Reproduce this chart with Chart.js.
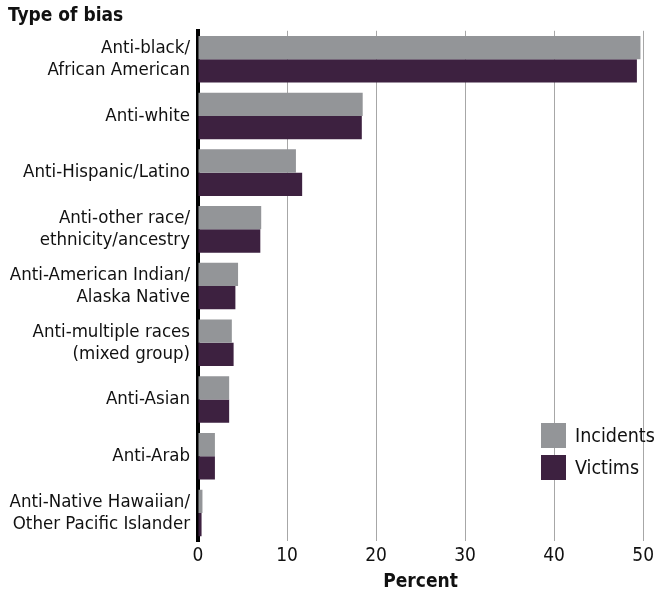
<!DOCTYPE html>
<html>
<head>
<meta charset="utf-8">
<script src="https://cdn.jsdelivr.net/npm/chart.js@4.4.0/dist/chart.umd.min.js"></script>
<style>
html,body{margin:0;padding:0;background:#fff;}
#wrap{width:657px;height:593px;position:relative;}
</style>
</head>
<body>
<div id="wrap"><canvas id="c"></canvas></div>
<script>
const categories = [
  ['Anti-black/', 'African American'],
  'Anti-white',
  'Anti-Hispanic/Latino',
  ['Anti-other race/', 'ethnicity/ancestry'],
  ['Anti-American Indian/', 'Alaska Native'],
  ['Anti-multiple races', '(mixed group)'],
  'Anti-Asian',
  'Anti-Arab',
  ['Anti-Native Hawaiian/', 'Other Pacific Islander']
];
const incidents = [49.7, 18.5, 11.0, 7.1, 4.5, 3.8, 3.5, 1.9, 0.5];
const victims = [49.3, 18.4, 11.7, 7.0, 4.2, 4.0, 3.5, 1.9, 0.4];
const xTicks = [0, 10, 20, 30, 40, 50];
const seriesNames = ['Incidents', 'Victims'];
const seriesColors = ['#939598', '#3d2140'];

const FONT = "'Liberation Sans Narrow', 'DejaVu Sans Condensed', 'Roboto', sans-serif";

const legendPlugin = {
  id: 'customLegend',
  afterDraw(chart) {
    const ctx = chart.ctx;
    const x0 = 541, y0 = 423, box = 25, gap = 32;
    ctx.save();
    ctx.font = '19.5px ' + FONT;
    ctx.textBaseline = 'middle';
    ctx.textAlign = 'left';
    chart.data.datasets.forEach((ds, i) => {
      const y = y0 + i * gap;
      ctx.fillStyle = ds.backgroundColor;
      ctx.fillRect(x0, y, box, box);
      ctx.fillStyle = '#111';
      ctx.fillText(ds.label, x0 + box + 9, y + box / 2 + 1);
    });
    ctx.restore();
  }
};

new Chart(document.getElementById('c'), {
  type: 'bar',
  data: {
    labels: categories,
    datasets: [
      { label: seriesNames[0], data: incidents, backgroundColor: seriesColors[0] },
      { label: seriesNames[1], data: victims, backgroundColor: seriesColors[1] }
    ]
  },
  options: {
    indexAxis: 'y',
    responsive: true,
    maintainAspectRatio: false,
    animation: false,
    layout: { padding: { top: 1, right: 11, bottom: 0, left: 8 } },
    datasets: { bar: { categoryPercentage: 0.82, barPercentage: 1.0, borderWidth: 0 } },
    plugins: {
      legend: { display: false },
      tooltip: { enabled: false },
      title: {
        display: true,
        text: 'Type of bias',
        align: 'start',
        color: '#111',
        font: { family: FONT, size: 19, weight: 'bold' },
        padding: { top: 4, bottom: 3 }
      }
    },
    scales: {
      x: {
        min: 0, max: 50,
        afterBuildTicks(scale) { scale.ticks = xTicks.map(v => ({ value: v })); },
        grid: { color: '#a7a7a7', lineWidth: 1, drawTicks: false },
        border: { display: false },
        ticks: { color: '#111', font: { family: FONT, size: 19 }, padding: 3 },
        title: {
          display: true, text: 'Percent', color: '#111',
          font: { family: FONT, size: 19, weight: 'bold' }, padding: { top: 0, bottom: 0 }
        }
      },
      y: {
        grid: { display: false, drawTicks: false },
        border: { display: true, color: '#000', width: 4 },
        afterFit(scale) { scale.width = 190; },
        ticks: {
          color: '#111', font: { family: FONT, size: 18.5, lineHeight: 1.2 }, padding: 8, autoSkip: false
        }
      }
    }
  },
  plugins: [legendPlugin]
});
</script>
</body>
</html>
